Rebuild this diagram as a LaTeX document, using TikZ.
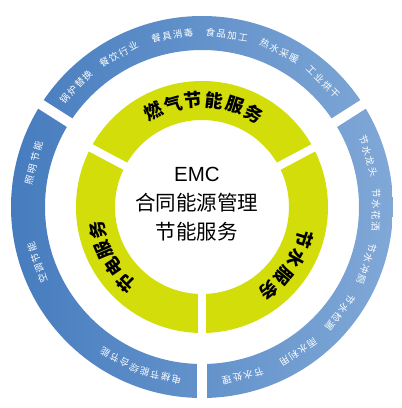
\documentclass[tikz,border=0pt]{standalone}
\usepackage{fontspec}
\setmainfont{Liberation Sans}
\newfontfamily\cjk{Noto Sans CJK SC}
\newfontfamily\cjkwide[LetterSpace=15]{Noto Sans CJK SC}

\definecolor{blueL}{RGB}{70,124,190}
\definecolor{blueR}{RGB}{128,168,215}
\definecolor{ygreen}{RGB}{211,221,10}

% characters along a ring, read clockwise, tops outward
\newcommand{\ringtext}[5]{%
    \foreach \ch [count=\i] in {#5} {
        \pgfmathsetmacro{\ang}{#3-(\i-1)*#4}
        \node[#1, rotate=\ang-90] at (\ang:#2pt) {\ch};
    }
}

\begin{document}
\begin{tikzpicture}[
    outerlbl/.style={text=white, inner sep=0pt, font=\cjkwide\fontsize{9.5}{10}\selectfont},
    innerlbl/.style={text=black, inner sep=0pt, font=\cjk\bfseries\fontsize{18}{20}\selectfont},
    bgap/.style={white, line width=10pt},
    ygap/.style={white, line width=8pt},
]

\useasboundingbox (-202pt,-201pt) rectangle (200pt,207pt);

\def\ro{191}
\def\ri{157}
\def\rt{174}
\def\yo{126}
\def\yi{87}
\def\yt{107}

% outer blue ring
\shade[left color=blueL, right color=blueR, even odd rule]
    (0,0) circle (\ro pt) (0,0) circle (\ri pt);

\foreach \a in {147.5,32.5,270}
    \draw[bgap] (\a:\ri pt-5pt) -- (\a:\ro pt+5pt);

% yellow ring
\fill[ygreen, even odd rule] (0,0) circle (\yo pt) (0,0) circle (\yi pt);

\foreach \a in {152,28,270}
    \draw[ygap] (\a:\yi pt-5pt) -- (\a:\yo pt+5pt);

% centre
\node[align=center, font=\cjk\fontsize{20.5}{29}\selectfont] (emc) at (-5pt,3pt)
    {{\rmfamily EMC}\\合同能源管理\\节能服务};

% yellow ring labels
\ringtext{innerlbl}{\yt}{117}{11.2}{燃,气,节,能,服,务}
\ringtext{innerlbl}{\yt}{-17.5}{11.2}{节,水,服,务}
\ringtext{innerlbl}{\yt}{225}{10.8}{节,电,服,务}

% blue ring labels
\foreach \a/\txt [count=\k] in {
    136.4/锅炉替换, 118.6/餐饮行业, 99.8/餐具消毒,
    81.8/食品加工, 63.6/热水采暖, 45.9/工业烘干,
    17/节水龙头, -1/节水花洒, -19/节水冲厕,
    -37.5/节水检漏, -56.4/雨水利用, -76.4/节水处理,
    165.3/照明 节能, 198.8/空调节能, 256.2/电梯节能, 241.8/综合节能}
    \node[outerlbl, rotate=\a-90] (lbl\k) at (\a:\rt pt) {\txt};

\end{tikzpicture}
\end{document}
